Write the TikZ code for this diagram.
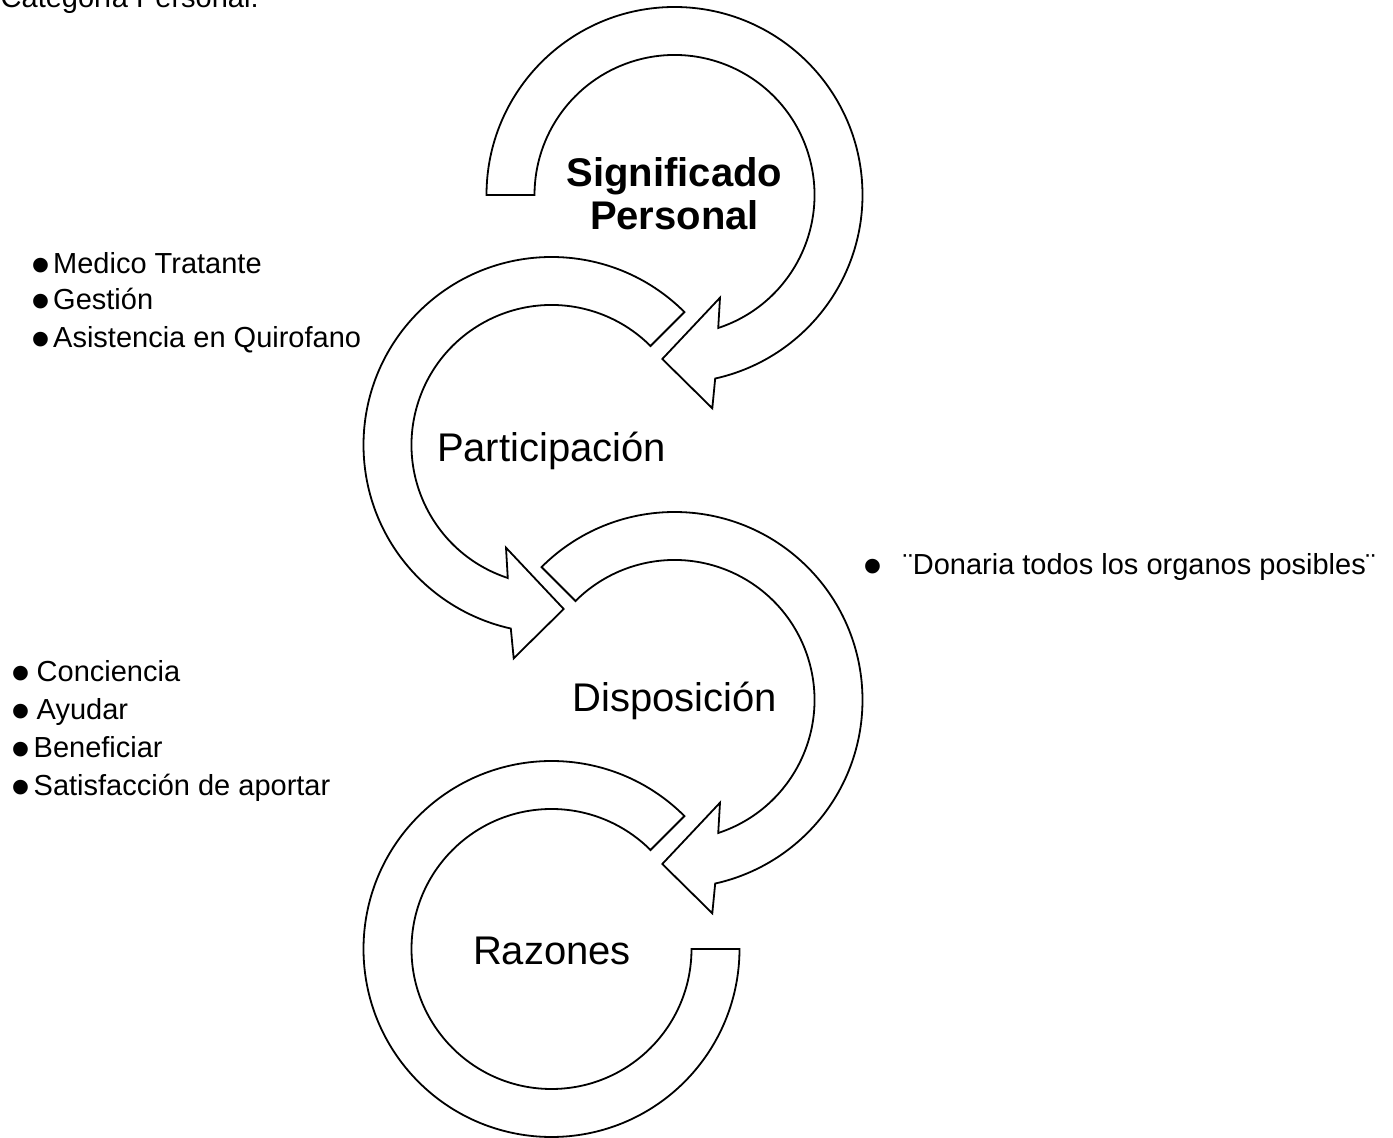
\documentclass[tikz,border=0pt]{standalone}
\usepackage{fontspec}
\setmainfont{Liberation Sans}
\newcommand\bul[1]{\makebox[0pt][r]{\smash{\raisebox{-10pt}{\fontsize{54}{54}\selectfont •}}\hspace{#1}}}
\begin{document}
\begin{tikzpicture}[x=1pt,y=1pt,
  cshape/.style={draw=black,fill=white,line width=1.8pt,line join=miter},
  lbl/.style={inner sep=0pt,anchor=base,font=\fontsize{40}{46}\selectfont},
  li/.style={inner sep=0pt,anchor=base west,font=\fontsize{29}{34}\selectfont}]
\useasboundingbox (0,0) rectangle (1393,1138);
% shape 1 : Significado Personal
\begin{scope}[shift={(674.5,943)}]
\draw[cshape] (180:188) arc[start angle=180,end angle=-77.5,radius=188]
  -- (37.8,-213.3) -- (-12.2,-164) -- (45.5,-102.7)
  -- (-71.8:140) arc[start angle=-71.8,end angle=180,radius=140] -- cycle;
\end{scope}
% shape 2 : Participacion
\begin{scope}[shift={(551.5,693)}]
\draw[cshape] (45:188) arc[start angle=45,end angle=257.5,radius=188]
  -- (-37.8,-213.3) -- (12.2,-164) -- (-45.5,-102.7)
  -- (251.8:140) arc[start angle=251.8,end angle=45,radius=140] -- cycle;
\end{scope}
% shape 3 : Disposicion
\begin{scope}[shift={(674.5,438)}]
\draw[cshape] (135:188) arc[start angle=135,end angle=-77.5,radius=188]
  -- (37.8,-213.3) -- (-12.2,-164) -- (45.5,-102.7)
  -- (-71.8:140) arc[start angle=-71.8,end angle=135,radius=140] -- cycle;
\end{scope}
% shape 4 : Razones
\begin{scope}[shift={(551.5,189)}]
\draw[cshape] (45:188) arc[start angle=45,end angle=360,radius=188]
  -- (0:140) arc[start angle=360,end angle=45,radius=140] -- cycle;
\end{scope}
% labels
\node[inner sep=0pt,align=center,font=\bfseries\fontsize{40}{43}\selectfont] (sig) at (674.5,944) {Significado\\Personal};
\node[lbl] (par) at (551.5,676) {Participación};
\node[lbl] (dis) at (674.5,426) {Disposición};
\node[lbl] (raz) at (552,173) {Razones};
% title
\node[li] (cat) at (0.5,1130) {Categoría Personal:};
% list A
\node[li] (a1) at (53,864) {\bul{3pt}Medico Tratante};
\node[li] (a2) at (53,828) {\bul{3pt}Gestión};
\node[li] (a3) at (53,790) {\bul{3pt}Asistencia en Quirofano};
% list B
\node[li] (b1) at (36.5,456) {\bul{6pt}Conciencia};
\node[li] (b2) at (36.5,418) {\bul{6pt}Ayudar};
\node[li] (b3) at (33.5,380) {\bul{3pt}Beneficiar};
\node[li] (b4) at (33.5,342) {\bul{3pt}Satisfacción de aportar};
% list C
\node[li] (c1) at (903,563) {\bul{20.6pt}¨Donaria todos los organos posibles¨};
\end{tikzpicture}
\end{document}
